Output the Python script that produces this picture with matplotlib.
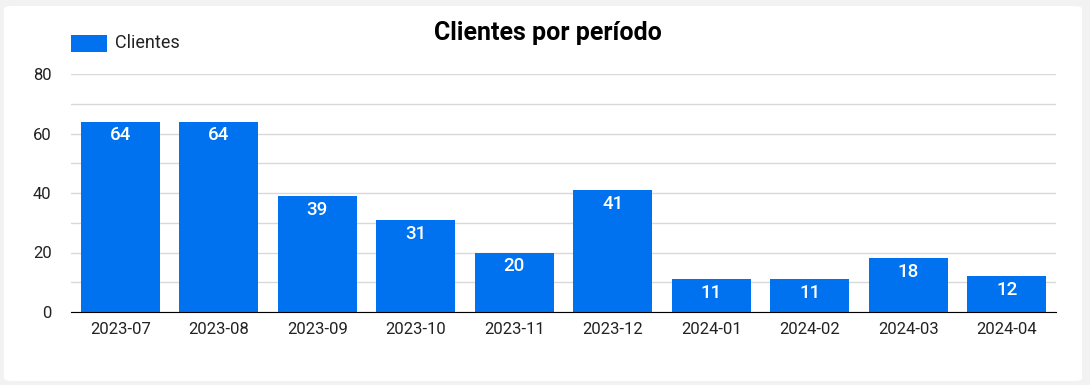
import matplotlib.pyplot as plt
from matplotlib.patches import FancyBboxPatch, Rectangle
from matplotlib.ticker import MultipleLocator

periods = ["2023-07", "2023-08", "2023-09", "2023-10", "2023-11",
           "2023-12", "2024-01", "2024-02", "2024-03", "2024-04"]
clientes = [64, 64, 39, 31, 20, 41, 11, 11, 18, 12]

BLUE = "#0072F0"
plt.rcParams["font.family"] = ["Roboto", "DejaVu Sans"]

fig = plt.figure(figsize=(10.9, 3.85), dpi=100, facecolor="#f2f2f2")
card = FancyBboxPatch((4 / 1090, 4 / 385), 1078 / 1090, 375 / 385,
                      boxstyle="round,pad=0,rounding_size=0.008",
                      transform=fig.transFigure, facecolor="white",
                      edgecolor="none", zorder=-10)
fig.add_artist(card)

ax = fig.add_axes([71 / 1090, 1 - 312 / 385, 985 / 1090, 238 / 385])
ax.set_facecolor("none")
x = range(len(periods))
bars = ax.bar(x, clientes, width=0.8, color=BLUE, zorder=3)
for b, v in zip(bars, clientes):
    ax.annotate(str(v), (b.get_x() + b.get_width() / 2, v),
                xytext=(0, -13.5), textcoords="offset points",
                ha="center", va="baseline", color="white",
                fontsize=13.5, fontweight="medium", zorder=4)

ax.set_xlim(-0.5, len(periods) - 0.5)
ax.set_ylim(0, 80)
ax.yaxis.set_major_locator(MultipleLocator(20))
ax.yaxis.set_minor_locator(MultipleLocator(10))
ax.grid(axis="y", which="both", color="#d9d9d9", linewidth=1, zorder=1)
ax.set_xticks(list(x))
ax.set_xticklabels(periods)
for s in ["top", "right", "left"]:
    ax.spines[s].set_visible(False)
ax.spines["bottom"].set_color("black")
ax.spines["bottom"].set_zorder(5)
ax.tick_params(axis="both", which="both", length=0, labelsize=12,
               colors="#222222")
ax.tick_params(axis="y", pad=14)
ax.tick_params(axis="x", pad=7)

fig.text(548 / 1090, 1 - 33 / 385, "Clientes por período", ha="center",
         va="center", fontsize=18, fontweight="bold", color="black")
fig.add_artist(Rectangle((71 / 1090, 1 - 52 / 385), 36 / 1090, 17 / 385,
                         transform=fig.transFigure, facecolor=BLUE,
                         edgecolor="none"))
fig.text(115 / 1090, 1 - 43 / 385, "Clientes", ha="left", va="center",
         fontsize=13, color="#222222")

fig.savefig("out.png", dpi=100, facecolor=fig.get_facecolor())
